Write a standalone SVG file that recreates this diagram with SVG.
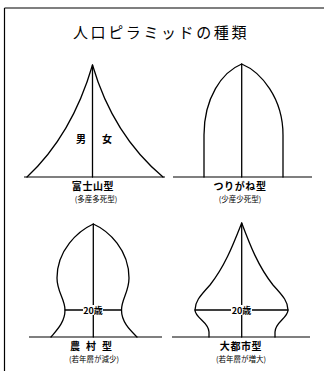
<svg xmlns="http://www.w3.org/2000/svg" width="324" height="371" viewBox="0 0 324 371">
<style>
.ln{fill:none;stroke:#000;stroke-width:1.3;stroke-linecap:round;stroke-linejoin:round}
.base{fill:none;stroke:#000;stroke-width:1.2}
text{font-family:"Noto Sans CJK JP","Liberation Sans",sans-serif;fill:#000;text-anchor:middle}
.ttl{font-size:15px;letter-spacing:2.6px}
.lab{font-size:10px;font-weight:bold;letter-spacing:0.6px}
.sub{font-size:7.5px}
.age{font-size:9px;font-weight:bold}
.mf{font-size:10px;font-weight:bold}
</style>
<rect width="324" height="371" fill="#fff"/>
<g id="frame">
<path class="base" d="M4.5,8 H324 M4.5,8 V371" stroke-width="1.6"/>
</g>
<text id="title" class="ttl" x="161" y="38">人口ピラミッドの種類</text>

<g id="fuji">
<path class="base" d="M24,177 H165"/>
<path class="ln" d="M27,177 Q72,135 92.5,65 Q113,135 163,177"/>
<path class="ln" d="M92.5,65 V177"/>
<text class="mf" x="81" y="143">男</text>
<text class="mf" x="107" y="143">女</text>
<text class="lab" x="93" y="189.5">富士山型</text>
<text class="sub" x="96" y="201.5">(多産多死型)</text>
</g>

<g id="tsurigane">
<path class="base" d="M173,177 H312"/>
<path class="ln" d="M204,177 V135 C204,98 222,72 241.7,64 C261,72 283,98 283,135 V177"/>
<path class="ln" d="M241.7,64 V177"/>
<text class="lab" x="240" y="189.5">つりがね型</text>
<text class="sub" x="240" y="201.5">(少産少死型)</text>
</g>

<g id="nouson">
<path class="base" d="M29,337 H162"/>
<path class="ln" d="M51,337 C57,330 65,322 65,310 C65,299 57,292 57,278 C57,250 78,231 93.3,224 C109,231 129,250 129,278 C129,292 121.5,299 121.5,310 C121.5,322 130,330 137,337"/>
<path class="ln" d="M93.3,224 V337"/>
<path class="ln" d="M65,310 H121.5" stroke-width="1.1"/>
<rect x="83" y="305" width="20" height="10" fill="#fff"/>
<text class="age" x="93" y="313.5">20歳</text>
<text class="lab" x="94" y="349.5" style="letter-spacing:6px">農村型</text>
<text class="sub" x="94" y="361.5">(若年層が減少)</text>
</g>

<g id="daitoshi">
<path class="base" d="M172,337 H310"/>
<path class="ln" d="M209,337 V332 C209,322 195,318 195,310 C195,302 199,297 210,285 C225,266 233,245 241.7,223 C250,245 258,266 273,285 C284,297 288,302 288,310 C288,318 275,322 275,332 V337"/>
<path class="ln" d="M241.7,223 V337"/>
<path class="ln" d="M195,310 H288" stroke-width="1.1"/>
<rect x="231" y="305" width="21" height="10" fill="#fff"/>
<text class="age" x="241.5" y="313.5">20歳</text>
<text class="lab" x="241" y="349.5">大都市型</text>
<text class="sub" x="241" y="361.5">(若年層が増大)</text>
</g>
</svg>
